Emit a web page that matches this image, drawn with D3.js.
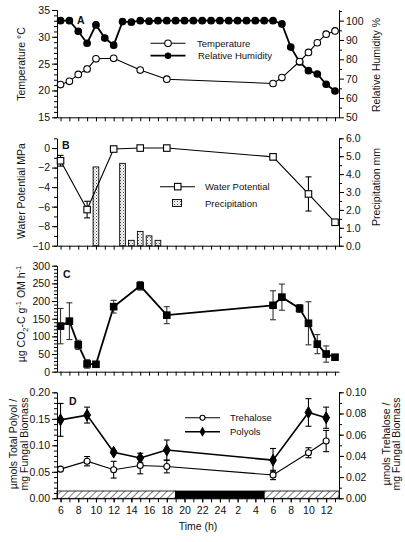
<!DOCTYPE html>
<html><head><meta charset="utf-8">
<script src="https://cdn.jsdelivr.net/npm/d3@7"></script>
<style>body{margin:0;background:#fff} text{font-family:"Liberation Sans",Arial,Helvetica,sans-serif;fill:#111}</style>
</head><body><svg id="c" width="405" height="542"></svg>
<script>
// ---- data ----
const hourTicks = [6,7,8,9,10,11,12,13,14,15,16,17,18,19,20,21,22,23,24,25,26,27,28,29,30,31,32,33,34,35,36,37];
const labelHours = [6,8,10,12,14,16,18,20,22,24,26,28,30,32,34,36];
const hourLabels = ["6","8","10","12","14","16","18","20","22","24","2","4","6","8","10","12"];

const rhHours = [6,7,8,9,10,11,12,13,14,15,16,17,18,19,20,21,22,23,24,25,26,27,28,29,30,31,32,33,34,35,36,37];
const rhValues = [100,100,94.5,88.3,97.8,91,87.3,99.5,99.2,100,99.7,100,100,100,100,100,100,100,100,100,100,100,100,100,100,98.3,86.3,78.6,74.1,72.4,67.1,63.6];

const tempHours = [6,7,8,9,10,12,15,18,30,31,33,34,35,36,37];
const tempValues = [21.1,21.7,23.0,24.0,25.9,26.0,23.8,22.1,21.3,22.4,25.4,27.1,28.9,30.5,31.1];
const tempErr = [0,0,0,0.5,0,0,0,0,0,0,0,0,0,0,0];

const wpHours = [6,9,12,15,18,30,34,37];
const wpValues = [-1.3,-6.3,-0.1,0,0,-0.9,-4.7,-7.6];
const wpErr = [0.55,0.85,0,0,0,0.3,1.75,0];

const precipHours = [10,13,14,15,16,17];
const precipValues = [4.4,4.6,0.3,0.8,0.55,0.3];

const co2Hours = [6,7,8,9,10,12,15,18,30,31,33,34,35,36,37];
const co2Values = [129,143,76,22,21,184,243,160,188,211,179,137,78,50,41];
const co2Err = [50,52,13,12,0,18,12,24,41,37,11,61,27,23,6];

const sugarHours = [6,9,12,15,18,30,34,36];
const polyolValues = [0.148,0.157,0.087,0.076,0.091,0.072,0.162,0.152];
const polyolErr = [0.031,0.015,0.003,0.009,0.019,0.022,0.026,0.02];
const trehaloseValues = [0.0275,0.035,0.027,0.031,0.030,0.022,0.043,0.054];
const trehaloseErr = [0,0.0044,0.0079,0.0079,0.006,0.0044,0.0047,0.01];

const lightPeriods = [[5.6,19,"light"],[19,29,"dark"],[29,37.45,"light"]];

// ---- drawing ----
const svg = d3.select("#c");
const L = 57, R = 339;
const TICKFS = 10.5, TITLEFS = 10.5, LEGFS = 9.5;
const x = d3.scaleLinear().domain([5.6,37.45]).range([L,R]);

const defs = svg.append("defs");
const st = defs.append("pattern").attr("id","stip").attr("patternUnits","userSpaceOnUse").attr("width",3).attr("height",3);
st.append("rect").attr("width",3).attr("height",3).attr("fill","#fff");
st.append("rect").attr("x",0).attr("y",0).attr("width",1).attr("height",1).attr("fill","#444");
st.append("rect").attr("x",1.5).attr("y",1.5).attr("width",1).attr("height",1).attr("fill","#777");
const ht = defs.append("pattern").attr("id","hatch").attr("patternUnits","userSpaceOnUse").attr("width",5).attr("height",5).attr("patternTransform","rotate(45)");
ht.append("rect").attr("width",5).attr("height",5).attr("fill","#fff");
ht.append("line").attr("x1",0).attr("y1",0).attr("x2",0).attr("y2",5).attr("stroke","#000").attr("stroke-width",1);

function styleAxis(g){
  g.selectAll("path.domain").attr("stroke","#000").attr("stroke-width",1);
  g.selectAll(".tick line").attr("stroke","#000").attr("stroke-width",1);
  g.selectAll(".tick text").attr("font-size",TICKFS).attr("fill","#111").attr("font-family",'"Liberation Sans",Arial,sans-serif');
}
function yAxis(scale, side, majors, minors, fmt){
  const xpos = side==="left"?L:R;
  const mk = side==="left"?d3.axisLeft:d3.axisRight;
  const g1 = svg.append("g").attr("transform",`translate(${xpos},0)`)
    .call(mk(scale).tickValues(minors).tickSize(3).tickFormat("").tickSizeOuter(0));
  styleAxis(g1);
  const g2 = svg.append("g").attr("transform",`translate(${xpos},0)`)
    .call(mk(scale).tickValues(majors).tickSize(5).tickPadding(2).tickFormat(fmt).tickSizeOuter(0));
  styleAxis(g2);
}
function xAxis(y0, labels){
  const g = svg.append("g").attr("transform",`translate(0,${y0})`)
    .call(d3.axisBottom(x).tickValues(hourTicks).tickSize(4).tickFormat("").tickSizeOuter(0));
  styleAxis(g);
  if(labels){
    const g2 = svg.append("g").attr("transform",`translate(0,${y0})`)
      .call(d3.axisBottom(x).tickValues(labelHours).tickSize(4).tickPadding(4).tickFormat((d,i)=>hourLabels[i]).tickSizeOuter(0));
    styleAxis(g2);
    g2.select("path.domain").remove();
  }
}
function yTitle(lines, xs, cy){
  lines.forEach((ln,i)=>{
    svg.append("text").attr("transform",`translate(${xs[i]},${cy}) rotate(-90)`)
      .attr("text-anchor","middle").attr("font-size",TITLEFS).text(ln);
  });
}
function errBars(hours, vals, errs, ys, color){
  const g = svg.append("g").attr("stroke",color).attr("stroke-width",1.1).attr("fill","none");
  hours.forEach((h,i)=>{
    if(!errs[i]) return;
    const cx = x(h), y1 = ys(vals[i]-errs[i]), y2 = ys(vals[i]+errs[i]);
    g.append("line").attr("x1",cx).attr("x2",cx).attr("y1",y1).attr("y2",y2);
    g.append("line").attr("x1",cx-3).attr("x2",cx+3).attr("y1",y1).attr("y2",y1);
    g.append("line").attr("x1",cx-3).attr("x2",cx+3).attr("y1",y2).attr("y2",y2);
  });
}
function line(hours, vals, ys, w){
  svg.append("path").datum(hours.map((h,i)=>[h,vals[i]]))
    .attr("fill","none").attr("stroke","#000").attr("stroke-width",w||1.1)
    .attr("d", d3.line().x(d=>x(d[0])).y(d=>ys(d[1])));
}
function circles(hours, vals, ys, r, filled){
  svg.append("g").selectAll("circle").data(hours.map((h,i)=>[h,vals[i]])).join("circle")
    .attr("cx",d=>x(d[0])).attr("cy",d=>ys(d[1])).attr("r",r)
    .attr("fill",filled?"#000":"#fff").attr("stroke","#000").attr("stroke-width",1.1);
}
function squares(hours, vals, ys, s, filled){
  svg.append("g").selectAll("rect").data(hours.map((h,i)=>[h,vals[i]])).join("rect")
    .attr("x",d=>x(d[0])-s/2).attr("y",d=>ys(d[1])-s/2).attr("width",s).attr("height",s)
    .attr("fill",filled?"#000":"#fff").attr("stroke","#000").attr("stroke-width",1.1);
}
function diamonds(hours, vals, ys, size){
  svg.append("g").selectAll("path").data(hours.map((h,i)=>[h,vals[i]])).join("path")
    .attr("transform",d=>`translate(${x(d[0])},${ys(d[1])})`)
    .attr("d", d3.symbol(d3.symbolDiamond, size)).attr("fill","#000").attr("stroke","#000");
}
function label(t, lx, ly){
  svg.append("text").attr("x",lx).attr("y",ly).attr("font-size",10.5).attr("font-weight","bold").text(t);
}
function legendText(t, lx, ly){
  svg.append("text").attr("x",lx).attr("y",ly+3.5).attr("font-size",LEGFS).text(t);
}

// ---- Panel A ----
const yT = d3.scaleLinear().domain([15,35]).range([117.3,10]);
const yRH = d3.scaleLinear().domain([50,105.5]).range([117.3,10]);
yAxis(yT,"left",[15,20,25,30,35],d3.range(15,35.1,1),d3.format("d"));
yAxis(yRH,"right",[50,60,70,80,90,100],[55,65,75,85,95,105],d3.format("d"));
xAxis(117.3,false);
line(rhHours, rhValues, yRH, 1.8);
line(tempHours, tempValues, yT, 1.1);
errBars(tempHours, tempValues, tempErr, yT, "#333");
circles(rhHours, rhValues, yRH, 3.3, true);
circles(tempHours, tempValues, yT, 3.3, false);
label("A", 77, 24);
yTitle(["Temperature °C"], [25], 64);
yTitle(["Relative Humidity %"], [380], 65);
svg.append("line").attr("x1",150.5).attr("x2",185.5).attr("y1",43.3).attr("y2",43.3).attr("stroke","#000").attr("stroke-width",1.1);
svg.append("circle").attr("cx",168).attr("cy",43.3).attr("r",3.3).attr("fill","#fff").attr("stroke","#000").attr("stroke-width",1.1);
svg.append("line").attr("x1",150.5).attr("x2",185.5).attr("y1",55.7).attr("y2",55.7).attr("stroke","#000").attr("stroke-width",1.8);
svg.append("circle").attr("cx",168).attr("cy",55.7).attr("r",3.3).attr("fill","#000");
legendText("Temperature", 197, 43.3);
legendText("Relative Humidity", 198, 55.7);

// ---- Panel B ----
const yW = d3.scaleLinear().domain([-10,1]).range([245.7,138.3]);
const yP = d3.scaleLinear().domain([0,6]).range([245.7,138.3]);
yAxis(yW,"left",[-10,-8,-6,-4,-2,0],d3.range(-10,1.01,1),d3.format("d"));
yAxis(yP,"right",[0,1,2,3,4,5,6],d3.range(0,6.01,0.5),d3.format(".1f"));
xAxis(245.7,false);
const bw = x(10.32)-x(10);
svg.append("g").selectAll("rect").data(precipHours.map((h,i)=>[h,precipValues[i]])).join("rect")
  .attr("x",d=>x(d[0])-bw).attr("width",bw*2).attr("y",d=>yP(d[1])).attr("height",d=>yP(0)-yP(d[1]))
  .attr("fill","url(#stip)").attr("stroke","#000").attr("stroke-width",0.9);
line(wpHours, wpValues, yW, 1.1);
errBars(wpHours, wpValues, wpErr, yW, "#000");
squares(wpHours, wpValues, yW, 6.5, false);
label("B", 62, 149);
yTitle(["Water Potential MPa"], [25], 191);
yTitle(["Precipitation mm"], [380], 187);
svg.append("line").attr("x1",160).attr("x2",195).attr("y1",186.7).attr("y2",186.7).attr("stroke","#000").attr("stroke-width",1.1);
svg.append("rect").attr("x",174.5).attr("y",183.4).attr("width",6.5).attr("height",6.5).attr("fill","#fff").attr("stroke","#000").attr("stroke-width",1.1);
svg.append("rect").attr("x",172.5).attr("y",199.5).attr("width",9).attr("height",7).attr("fill","url(#stip)").attr("stroke","#000").attr("stroke-width",0.9);
legendText("Water Potential", 205, 186.7);
legendText("Precipitation", 205, 203);

// ---- Panel C ----
const yC = d3.scaleLinear().domain([0,300]).range([371.7,265.7]);
yAxis(yC,"left",[0,50,100,150,200,250,300],d3.range(0,301,10),d3.format("d"));
xAxis(371.7,false);
line(co2Hours, co2Values, yC, 1.8);
errBars(co2Hours, co2Values, co2Err, yC, "#333");
squares(co2Hours, co2Values, yC, 6.5, true);
label("C", 63, 278);
const tc = svg.append("text").attr("transform","translate(25,314) rotate(-90)").attr("text-anchor","middle").attr("font-size",TITLEFS);
tc.append("tspan").text("µg CO");
tc.append("tspan").attr("font-size",7.5).attr("dy",3).text("2");
tc.append("tspan").attr("dy",-3).text("-C g");
tc.append("tspan").attr("font-size",7.5).attr("dy",-4.5).text("-1");
tc.append("tspan").attr("dy",4.5).text(" OM h");
tc.append("tspan").attr("font-size",7.5).attr("dy",-4.5).text("-1");

// ---- Panel D ----
const yPol = d3.scaleLinear().domain([0,0.2]).range([498.3,392.3]);
const yTre = d3.scaleLinear().domain([0,0.1]).range([498.3,392.3]);
svg.append("g").selectAll("rect").data(lightPeriods).join("rect")
  .attr("x",d=>x(d[0])).attr("width",d=>x(d[1])-x(d[0])).attr("y",491).attr("height",7.3)
  .attr("fill",d=>d[2]==="dark"?"#000":"url(#hatch)").attr("stroke","#000").attr("stroke-width",0.8);
yAxis(yPol,"left",[0,0.05,0.1,0.15,0.2],d3.range(0,0.2001,0.01),d3.format(".2f"));
yAxis(yTre,"right",[0,0.02,0.04,0.06,0.08,0.1],d3.range(0,0.1001,0.01),d3.format(".2f"));
xAxis(498.3,true);
line(sugarHours, polyolValues, yPol, 1.6);
line(sugarHours, trehaloseValues, yTre, 1.1);
errBars(sugarHours, polyolValues, polyolErr, yPol, "#000");
errBars(sugarHours, trehaloseValues, trehaloseErr, yTre, "#000");
diamonds(sugarHours, polyolValues, yPol, 40);
circles(sugarHours, trehaloseValues, yTre, 3, false);
label("D", 69, 405);
yTitle(["µmols Total Polyol /","mg Fungal Biomass"], [17, 28], 444);
yTitle(["µmols Trehalose /","mg Fungal Biomass"], [390, 400], 444);
svg.append("line").attr("x1",185).attr("x2",220).attr("y1",417.7).attr("y2",417.7).attr("stroke","#000").attr("stroke-width",1.1);
svg.append("circle").attr("cx",202.5).attr("cy",417.7).attr("r",2.5).attr("fill","#fff").attr("stroke","#000").attr("stroke-width",1.1);
svg.append("line").attr("x1",185).attr("x2",220).attr("y1",431.7).attr("y2",431.7).attr("stroke","#000").attr("stroke-width",1.4);
svg.append("path").attr("transform","translate(202.5,431.7)").attr("d",d3.symbol(d3.symbolDiamond,30)).attr("fill","#000");
legendText("Trehalose", 230, 417.7);
legendText("Polyols", 230, 431.7);
svg.append("text").attr("x",(L+R)/2).attr("y",530).attr("text-anchor","middle").attr("font-size",TITLEFS).text("Time (h)");
</script></body></html>
